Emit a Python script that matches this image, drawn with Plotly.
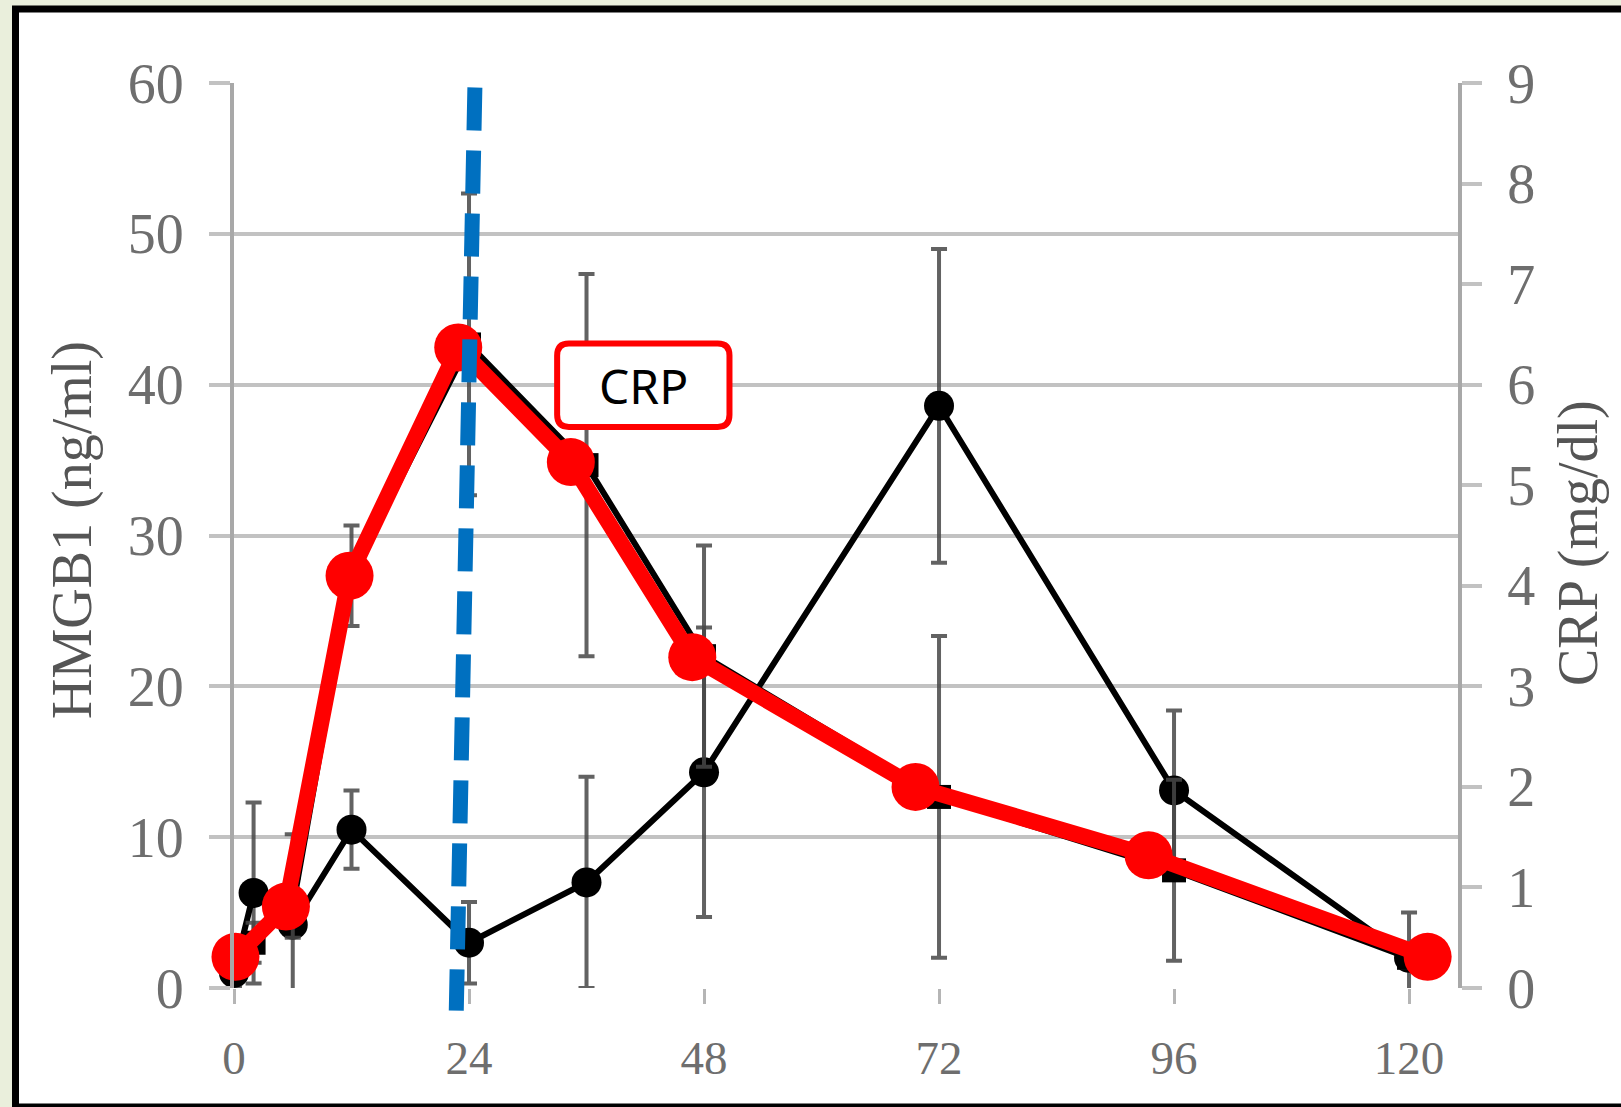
import plotly.graph_objects as go

# ---------------- data ----------------
hours = [0, 2, 6, 12, 24, 36, 48, 72, 96, 120]
hmgb1 = [1.0, 6.3, 4.2, 10.5, 3.0, 7.0, 14.3, 38.6, 13.1, 2.0]
hmgb1_err = [1.0, 6.0, 6.0, 2.6, 2.7, 7.0, 9.6, 10.4, 5.3, 3.0]

crp = [0.3, 0.45, 0.8, 4.1, 6.4, 5.2, 3.3, 1.9, 1.17, 0.3]
crp_err = [0.1, 0.2, 0.3, 0.5, 1.5, 1.9, 1.1, 1.6, 0.9, 0.1]

# red hand-drawn CRP overlay
red_hours = [0.15, 5.3, 11.8, 22.9, 34.4, 46.8, 69.6, 93.4, 121.9]
red_crp = [0.31, 0.81, 4.10, 6.37, 5.23, 3.29, 2.0, 1.32, 0.31]

# blue dashed marker line (hours, HMGB1 units), top -> bottom
blue_hours = [24.6, 22.7]
blue_hmgb1 = [59.7, -1.5]

x_ticks = [0, 24, 48, 72, 96, 120]
y_ticks = [0, 10, 20, 30, 40, 50, 60]
y2_ticks = list(range(0, 10))

# ---------------- layout geometry ----------------
W, H = 1621, 1107
L, R, T, B = 234, 1458, 83, 988


def px(x):
    return (x - L) / (R - L)


def py(y):
    return (B - y) / (B - T)


GRID = "#c2c2c2"
AXL = "#a8a8a8"
BG = "#eaefdc"
TICKFONT = "Liberation Serif, Times New Roman, serif"

fig = go.Figure()

# HMGB1 (black, left axis)
fig.add_trace(go.Scatter(
    x=hours, y=hmgb1, mode="lines+markers",
    line=dict(color="black", width=6),
    marker=dict(color="black", size=30),
    error_y=dict(type="data", array=hmgb1_err, color="rgba(70,70,70,0.85)",
                 thickness=4, width=8),
    cliponaxis=False, showlegend=False, yaxis="y"))

# CRP original (black, right axis)
fig.add_trace(go.Scatter(
    x=hours, y=crp, mode="lines+markers",
    line=dict(color="black", width=6),
    marker=dict(color="black", size=24, symbol="square"),
    error_y=dict(type="data", array=crp_err, color="rgba(70,70,70,0.85)",
                 thickness=4, width=8),
    cliponaxis=False, showlegend=False, yaxis="y2"))

# red overlay
fig.add_trace(go.Scatter(
    x=red_hours, y=red_crp, mode="lines+markers",
    line=dict(color="#ff0000", width=16),
    marker=dict(color="#ff0000", size=48),
    cliponaxis=False, showlegend=False, yaxis="y2"))

shapes = []
# slide frame
shapes.append(dict(type="rect", xref="paper", yref="paper", layer="below",
                   x0=px(15.5), x1=px(1660), y0=py(9), y1=py(1107),
                   fillcolor="white", line=dict(color="black", width=7)))
# blue dashed line
shapes.append(dict(type="line", xref="x", yref="y domain", layer="above",
                   x0=blue_hours[0], x1=blue_hours[1],
                   y0=blue_hmgb1[0] / y_ticks[-1], y1=blue_hmgb1[1] / y_ticks[-1],
                   line=dict(color="#0070c0", width=15, dash="43px,20px")))

# rounded CRP label box (hours / CRP units)
bx0, bx1, by0, by1 = 33.0, 50.6, 5.58, 6.41
rx, ry = 1.2, 0.12
path = (f"M {bx0+rx},{by0} L {bx1-rx},{by0} Q {bx1},{by0} {bx1},{by0+ry} "
        f"L {bx1},{by1-ry} Q {bx1},{by1} {bx1-rx},{by1} "
        f"L {bx0+rx},{by1} Q {bx0},{by1} {bx0},{by1-ry} "
        f"L {bx0},{by0+ry} Q {bx0},{by0} {bx0+rx},{by0} Z")
shapes.append(dict(type="path", xref="x", yref="y2", layer="above", path=path,
                   fillcolor="white", line=dict(color="#ff0000", width=6)))

annotations = [
    dict(text="CRP", x=41.8, y=5.99, xref="x", yref="y2", showarrow=False,
         xanchor="center", yanchor="middle",
         font=dict(family="Noto Sans", size=48, color="black")),
    dict(text="HMGB1 (ng/ml)", x=px(72), y=py(530), xref="paper", yref="paper",
         textangle=-90, showarrow=False, xanchor="center", yanchor="middle",
         font=dict(family=TICKFONT, size=56, color="#555555")),
    dict(text="CRP (mg/dl)", x=px(1578), y=py(543), xref="paper", yref="paper",
         textangle=-90, showarrow=False, xanchor="center", yanchor="middle",
         font=dict(family=TICKFONT, size=56, color="#555555")),
]

fig.update_layout(
    width=W, height=H,
    margin=dict(l=L, r=W - R, t=T, b=H - B, autoexpand=False),
    paper_bgcolor=BG, plot_bgcolor="rgba(0,0,0,0)",
    shapes=shapes, annotations=annotations,
    xaxis=dict(range=[0, 125], tickvals=x_ticks, ticks="outside", ticklen=15,
               tickwidth=3, tickcolor="#b5b5b5", showgrid=False, zeroline=False,
               showline=False, ticklabelstandoff=14,
               tickfont=dict(family=TICKFONT, size=47, color="#6e6e6e")),
    yaxis=dict(range=[0, 60], tickvals=y_ticks, ticks="outside", ticklen=21,
               tickwidth=4, tickcolor=GRID, showgrid=True, gridcolor=GRID,
               gridwidth=4, zeroline=False, showline=True, linecolor=AXL,
               linewidth=4, ticklabelstandoff=14,
               tickfont=dict(family=TICKFONT, size=56, color="#6e6e6e")),
    yaxis2=dict(range=[0, 9], tickvals=y2_ticks, overlaying="y", side="right",
                ticks="outside", ticklen=20, tickwidth=4, tickcolor=GRID,
                showgrid=False, zeroline=False, showline=True, linecolor=AXL,
                linewidth=4, ticklabelstandoff=14,
                tickfont=dict(family=TICKFONT, size=56, color="#6e6e6e")),
)

fig.write_html(
    "out.html",
    config={"displayModeBar": False},
    post_script=("document.body.style.margin='0px';"
                 "document.body.style.background='" + BG + "';"
                 "document.body.style.overflow='hidden';"),
)
